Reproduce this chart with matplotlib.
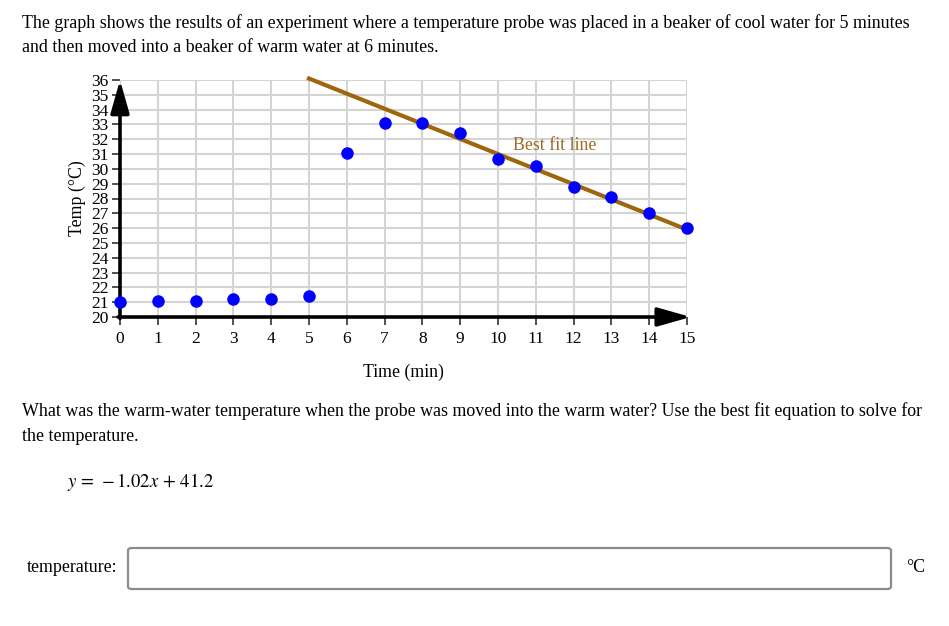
import numpy as np
import matplotlib.pyplot as plt
from matplotlib.patches import FancyBboxPatch

# data
time_min = [0, 1, 2, 3, 4, 5, 6, 7, 8, 9, 10, 11, 12, 13, 14, 15]
temp_c = [21.0, 21.1, 21.1, 21.2, 21.2, 21.4, 31.1, 33.1, 33.1, 32.4,
          30.7, 30.2, 28.8, 28.1, 27.0, 26.0]
fit_slope = -1.02
fit_icpt = 41.2
fit_x = [5, 15]
x_ticks = list(range(0, 16))
y_ticks = list(range(20, 37))

W, H = 949, 626
plt.rcParams['font.family'] = ['Liberation Serif', 'DejaVu Serif']
plt.rcParams['mathtext.fontset'] = 'stix'

fig = plt.figure(figsize=(W / 100, H / 100), dpi=100)


def fx(px):
    return px / W


def fy(py):
    return 1 - py / H


# plot area in pixels of the picture
ax = fig.add_axes([fx(120), fy(317), fx(687) - fx(120), fy(80) - fy(317)])
ax.set_xlim(0, 15)
ax.set_ylim(20, 36)
for s in ax.spines.values():
    s.set_visible(False)
ax.set_xticks(x_ticks)
ax.set_yticks(y_ticks)
ax.set_xticklabels([str(t) for t in x_ticks])
ax.set_yticklabels([str(t) for t in y_ticks])
ax.tick_params(axis='both', labelsize=12.5, color='#333333', width=1.2, length=6)
ax.tick_params(axis='x', pad=4)
ax.tick_params(axis='y', pad=2)
ax.grid(True, color='#d4d4d4', lw=1.5)
ax.set_axisbelow(True)

# axes drawn as arrows
arrow = dict(arrowstyle='-|>,head_length=0.67,head_width=0.19', lw=2.6, color='black',
             mutation_scale=30, shrinkA=0, shrinkB=0)
ax.annotate('', xy=(0, 36.0), xytext=(0, 19.9), arrowprops=arrow, annotation_clip=False)
ax.annotate('', xy=(15.1, 20), xytext=(-0.05, 20), arrowprops=arrow, annotation_clip=False)

fx_arr = np.array(fit_x)
ax.plot(fx_arr, fit_slope * fx_arr + fit_icpt, color='#a0650f', lw=3, clip_on=False, zorder=3)
ax.plot(time_min, temp_c, 'o', color='#0000ff', ms=8, clip_on=False, zorder=4)
ax.text(10.4, 31.6, 'Best fit line', color='#9c6b1e', fontsize=12.8, va='center')

ax.set_xlabel('Time (min)', fontsize=12.8, labelpad=12)
ax.set_ylabel('Temp (°C)', fontsize=12.8, labelpad=4)

# question text around the chart
body = 12.9
fig.text(fx(22), fy(28), 'The graph shows the results of an experiment where a temperature probe was placed '
         'in a beaker of cool water for 5 minutes', fontsize=body, va='baseline')
fig.text(fx(22), fy(52), 'and then moved into a beaker of warm water at 6 minutes.', fontsize=body, va='baseline')
fig.text(fx(22), fy(416), 'What was the warm-water temperature when the probe was moved into the warm water? '
         'Use the best fit equation to solve for', fontsize=body, va='baseline')
fig.text(fx(22), fy(441), 'the temperature.', fontsize=body, va='baseline')
fig.text(fx(67), fy(487), r'$y\,=\,-1.02x\,+\,41.2$', fontsize=13.4, va='baseline')

fig.text(fx(27), fy(568), 'temperature:', fontsize=body, va='center')
fig.text(fx(906), fy(568), '°C', fontsize=body, va='center')
box = FancyBboxPatch((fx(128), fy(589)), fx(891) - fx(128), fy(548) - fy(589),
                     boxstyle='round,pad=0,rounding_size=0.004', transform=fig.transFigure,
                     fc='white', ec='#8c8c8c', lw=1.6)
fig.patches.append(box)

fig.savefig('out.png', dpi=100)
